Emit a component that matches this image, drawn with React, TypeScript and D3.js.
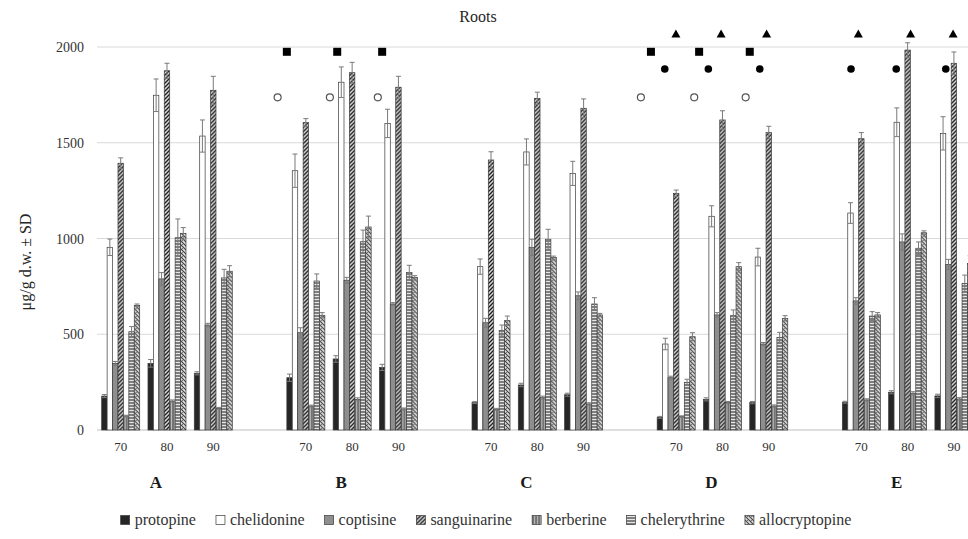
import React from "react";
import * as d3 from "d3";

const groups = ["A", "B", "C", "D", "E"];
const subLabels = ["70", "80", "90"];
const seriesNames = ["protopine", "chelidonine", "coptisine", "sanguinarine", "berberine", "chelerythrine", "allocryptopine"];

// values in order A70,A80,A90,B70,...,E90
const protopine = [177, 348, 296, 273, 371, 327, 143, 235, 184, 66, 160, 143, 145, 197, 178];
const protopineSD = [8, 20, 8, 19, 17, 16, 5, 9, 8, 5, 8, 6, 5, 8, 9];
const chelidonine = [954, 1748, 1535, 1354, 1816, 1601, 853, 1452, 1340, 449, 1116, 903, 1133, 1607, 1549];
const chelidonineSD = [43, 85, 84, 87, 80, 74, 40, 68, 63, 30, 55, 46, 54, 75, 87];
const coptisine = [348, 789, 548, 508, 782, 658, 560, 954, 701, 273, 601, 449, 674, 982, 865];
const coptisineSD = [10, 33, 9, 26, 15, 7, 23, 42, 20, 8, 12, 8, 17, 42, 26];
const sanguinarine = [1393, 1876, 1774, 1605, 1866, 1790, 1410, 1732, 1680, 1236, 1619, 1553, 1521, 1984, 1915];
const sanguinarineSD = [28, 39, 73, 21, 54, 57, 43, 32, 49, 17, 48, 33, 32, 38, 59];
const berberine = [73, 151, 113, 125, 160, 110, 108, 169, 136, 70, 143, 125, 157, 192, 162];
const berberineSD = [4, 6, 5, 5, 8, 5, 5, 8, 6, 4, 6, 6, 6, 8, 7];
const chelerythrine = [513, 1004, 794, 778, 983, 822, 519, 996, 658, 249, 597, 484, 595, 949, 766];
const chelerythrineSD = [27, 98, 45, 37, 61, 38, 29, 52, 33, 16, 30, 26, 23, 33, 43];
const allocryptopine = [651, 1027, 829, 599, 1060, 797, 571, 900, 601, 487, 853, 583, 601, 1030, 870];
const allocryptopineSD = [7, 30, 29, 14, 57, 9, 24, 8, 8, 21, 21, 14, 12, 10, 40];

const yTicks = [0, 500, 1000, 1500, 2000];

// significance markers: category, shape, slot (in bar units from cluster start), level (data units)
const markers = [
  { cat: "B-70", shape: "square", slot: 0.0, level: 1975 },
  { cat: "B-70", shape: "open", slot: -1.7, level: 1737 },
  { cat: "B-80", shape: "square", slot: 0.75, level: 1975 },
  { cat: "B-80", shape: "open", slot: -0.6, level: 1737 },
  { cat: "B-90", shape: "square", slot: 0.5, level: 1975 },
  { cat: "B-90", shape: "open", slot: -0.3, level: 1737 },
  { cat: "D-70", shape: "triangle", slot: 3.45, level: 2068 },
  { cat: "D-70", shape: "square", slot: -1.15, level: 1975 },
  { cat: "D-70", shape: "filled", slot: 1.4, level: 1885 },
  { cat: "D-70", shape: "open", slot: -3.0, level: 1737 },
  { cat: "D-80", shape: "triangle", slot: 3.25, level: 2068 },
  { cat: "D-80", shape: "square", slot: -0.8, level: 1975 },
  { cat: "D-80", shape: "filled", slot: 0.9, level: 1885 },
  { cat: "D-80", shape: "open", slot: -1.7, level: 1737 },
  { cat: "D-90", shape: "triangle", slot: 3.1, level: 2068 },
  { cat: "D-90", shape: "square", slot: 0.0, level: 1975 },
  { cat: "D-90", shape: "filled", slot: 1.85, level: 1885 },
  { cat: "D-90", shape: "open", slot: -0.75, level: 1737 },
  { cat: "E-70", shape: "triangle", slot: 2.95, level: 2068 },
  { cat: "E-70", shape: "filled", slot: 1.6, level: 1885 },
  { cat: "E-80", shape: "triangle", slot: 4.05, level: 2068 },
  { cat: "E-80", shape: "filled", slot: 1.4, level: 1885 },
  { cat: "E-90", shape: "triangle", slot: 3.35, level: 2068 },
  { cat: "E-90", shape: "filled", slot: 2.0, level: 1885 },
];

const seriesValues = [protopine, chelidonine, coptisine, sanguinarine, berberine, chelerythrine, allocryptopine];
const seriesSD = [protopineSD, chelidonineSD, coptisineSD, sanguinarineSD, berberineSD, chelerythrineSD, allocryptopineSD];
const fills = ["#262626", "#ffffff", "#8e8e8e", "url(#p-sang)", "url(#p-berb)", "url(#p-chel)", "url(#p-allo)"];

const W = 968, H = 539;
const FONT = "'Liberation Serif', 'Times New Roman', serif";

// category domain: 70, 80, 90 and an empty slot per group
const categories: string[] = [];
groups.forEach((g) => {
  subLabels.forEach((s) => categories.push(`${g}-${s}`));
  categories.push(`${g}-gap`);
});

function measure(text: string, font: string) {
  const c = document.createElement("canvas").getContext("2d")!;
  c.font = font;
  return c.measureText(text).width;
}

export default function App() {
  const step = 46.29;
  const left = 97.55;
  const x = d3.scaleBand<string>().domain(categories).range([left, left + step * categories.length]).paddingInner(0.179).paddingOuter(0.0895);
  const xs = d3.scaleBand<string>().domain(seriesNames).range([0, x.bandwidth()]).padding(0);
  const y = d3.scaleLinear().domain([0, 2000]).range([430, 47]);
  const bw = xs.bandwidth();

  const dataCats = categories.filter((c) => !c.endsWith("gap"));

  const legendFontSize = 16;
  const legendFont = `${legendFontSize}px 'Liberation Serif'`;
  const icon = 9, iconGap = 5, itemGap = 20;
  const widths = seriesNames.map((n) => measure(n, legendFont));
  const total = widths.reduce((a, b) => a + b, 0) + seriesNames.length * (icon + iconGap) + (seriesNames.length - 1) * itemGap;
  let lx = 486 - total / 2;
  const legendItems = seriesNames.map((n, i) => {
    const item = { name: n, x: lx, fill: fills[i] };
    lx += icon + iconGap + widths[i] + itemGap;
    return item;
  });

  return (
    <svg width={W} height={H} style={{ position: "absolute", left: 0, top: 0, background: "#fff" }} fontFamily={FONT}>
      <defs>
        <pattern id="p-sang" width="4" height="4" patternUnits="userSpaceOnUse">
          <rect width="4" height="4" fill="#d8d8d8" />
          <path d="M0,4 L4,0 M-1,1 L1,-1 M3,5 L5,3" stroke="#1e1e1e" strokeWidth="1.3" />
        </pattern>
        <pattern id="p-berb" width="3" height="3" patternUnits="userSpaceOnUse">
          <rect width="3" height="3" fill="#bdbdbd" />
          <path d="M1,0 L1,3" stroke="#2a2a2a" strokeWidth="1" />
        </pattern>
        <pattern id="p-chel" width="3" height="3" patternUnits="userSpaceOnUse">
          <rect width="3" height="3" fill="#e6e6e6" />
          <path d="M0,1 L3,1" stroke="#2a2a2a" strokeWidth="1.1" />
        </pattern>
        <pattern id="p-allo" width="4" height="4" patternUnits="userSpaceOnUse">
          <rect width="4" height="4" fill="#e2e2e2" />
          <path d="M0,0 L4,4 M-1,3 L1,5 M3,-1 L5,1" stroke="#3c3c3c" strokeWidth="1.1" />
          <rect x="2" y="0" width="1" height="1" fill="#777" />
        </pattern>
      </defs>

      {/* title */}
      <text x={478} y={22} textAnchor="middle" fontSize={16} fill="#262626">Roots</text>

      {/* gridlines */}
      {yTicks.map((t) => (
        <line key={t} x1={97} x2={W} y1={y(t)} y2={y(t)} stroke={t === 0 ? "#bfbfbf" : "#d9d9d9"} strokeWidth={1} />
      ))}
      {yTicks.map((t) => (
        <text key={"l" + t} x={84} y={y(t) + 5} textAnchor="end" fontSize={14} fill="#333">{t}</text>
      ))}
      <text transform={`translate(31,262) rotate(-90)`} textAnchor="middle" fontSize={16} fill="#262626">μg/g d.w. ± SD</text>

      {/* bars */}
      {dataCats.map((c, ci) => (
        <g key={c} transform={`translate(${x(c)},0)`}>
          {seriesNames.map((s, si) => {
            const v = seriesValues[si][ci];
            return (
              <rect key={s} x={xs(s)} y={y(v)} width={bw} height={y(0) - y(v)} fill={fills[si]} stroke="#3a3a3a" strokeWidth={0.7} />
            );
          })}
          {seriesNames.map((s, si) => {
            const v = seriesValues[si][ci];
            const sd = seriesSD[si][ci];
            const cx = (xs(s) as number) + bw / 2;
            return (
              <g key={"e" + s} stroke="#7a7a7a" strokeWidth={1}>
                <line x1={cx} x2={cx} y1={y(v - sd)} y2={y(v + sd)} />
                <line x1={cx - 2.5} x2={cx + 2.5} y1={y(v + sd)} y2={y(v + sd)} />
                <line x1={cx - 2.5} x2={cx + 2.5} y1={y(v - sd)} y2={y(v - sd)} />
              </g>
            );
          })}
        </g>
      ))}

      {/* markers */}
      {markers.map((m, i) => {
        const cx = (x(m.cat) as number) + m.slot * bw;
        const cy = y(m.level);
        if (m.shape === "square") return <rect key={i} x={cx - 4} y={cy - 4} width={8} height={8} fill="#000" />;
        if (m.shape === "open") return <circle key={i} cx={cx} cy={cy} r={3.5} fill="#fff" stroke="#555" strokeWidth={1.2} />;
        if (m.shape === "filled") return <circle key={i} cx={cx} cy={cy} r={3.8} fill="#000" />;
        return <path key={i} d={`M${cx},${cy - 4.5} L${cx + 4.5},${cy + 3.5} L${cx - 4.5},${cy + 3.5} Z`} fill="#000" />;
      })}

      {/* x labels */}
      {dataCats.map((c) => (
        <text key={"x" + c} x={(x(c) as number) + x.bandwidth() / 2} y={451} textAnchor="middle" fontSize={13} fill="#333">{c.split("-")[1]}</text>
      ))}
      {groups.map((g) => (
        <text key={"g" + g} x={(x(`${g}-80`) as number) + x.bandwidth() / 2 - 11} y={488} textAnchor="middle" fontSize={17} fontWeight="bold" fill="#1a1a1a">{g}</text>
      ))}

      {/* legend */}
      {legendItems.map((it) => (
        <g key={it.name} transform={`translate(${it.x},520)`}>
          <rect x={0} y={-icon / 2} width={icon} height={icon} fill={it.fill} stroke="#3a3a3a" strokeWidth={0.7} />
          <text x={icon + iconGap} y={5} fontSize={legendFontSize} fill="#333">{it.name}</text>
        </g>
      ))}
    </svg>
  );
}
